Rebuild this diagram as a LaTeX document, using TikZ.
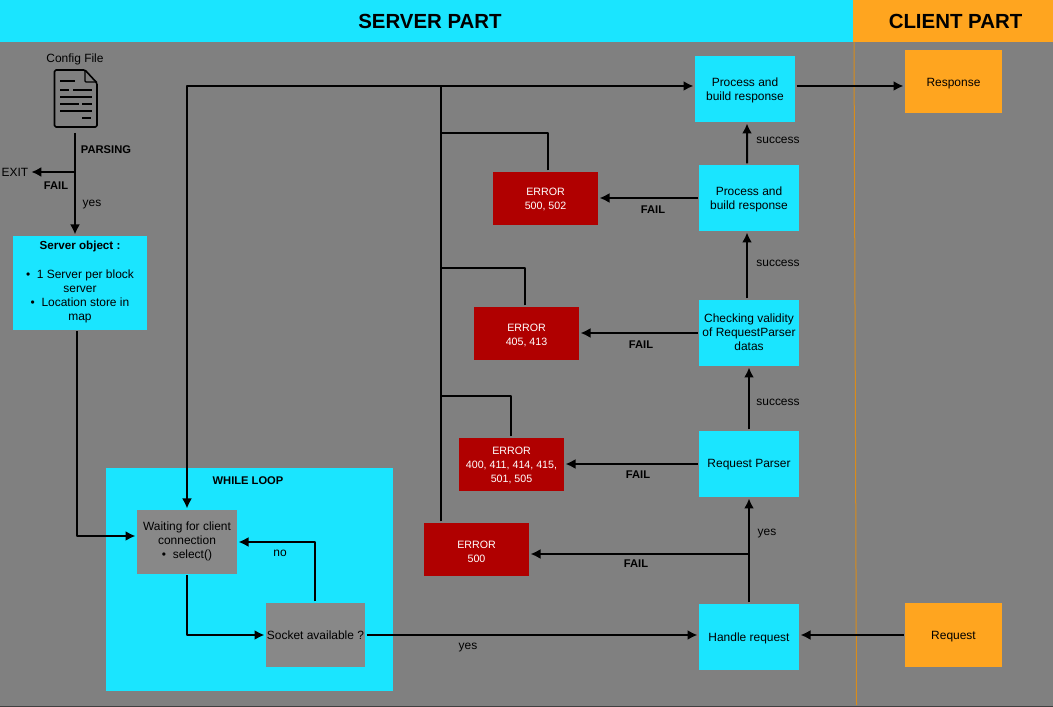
\documentclass[tikz,border=0pt]{standalone}
\usepackage{fontspec}
\setmainfont{Liberation Sans}
\usetikzlibrary{positioning,arrows.meta}
\definecolor{bandcyan}{HTML}{1AE5FF}
\definecolor{bandorange}{HTML}{FFA51F}
\definecolor{errred}{HTML}{B00000}
\definecolor{backgray}{HTML}{808080}
\definecolor{boxgray}{HTML}{888888}
\newcommand{\lowtext}[2][1.8bp]{\raisebox{-#1}[\height][\depth]{\begin{tabular}{@{}c@{}}#2\end{tabular}}}
\tikzset{
  basetxt/.style={font=\fontsize{12}{14}\selectfont,align=center,text=black,inner sep=0pt},
  txt/.style={basetxt,yshift=-1.5bp},
  boldtxt/.style={basetxt,font=\fontsize{11.2}{14}\selectfont\bfseries,yshift=-0.5bp},
  box/.style={basetxt,minimum width=100bp,minimum height=66bp,outer sep=1.5bp},
  cyanbox/.style={box,fill=bandcyan},
  graybox/.style={box,fill=boxgray,minimum height=64bp},
  clientbox/.style={box,fill=bandorange,minimum width=97bp,minimum height=64bp},
  errbox/.style={box,fill=errred,text=white,font=\fontsize{10.7}{14}\selectfont,minimum width=105bp,minimum height=53bp},
  conn/.style={black,line width=2bp},
  head/.style={font=\fontsize{20.5}{24}\selectfont\bfseries,text=black,inner sep=0pt},
}
\begin{document}
\begin{tikzpicture}[>={Latex[length=10bp,width=10bp]},line join=bevel,]
\useasboundingbox (0bp,0bp) rectangle (1053bp,707bp);
\fill [backgray] (0bp,0bp) rectangle (1053bp,707bp);
\fill [black!75] (0bp,0bp) rectangle (1053bp,1.5bp);
%% header bands
\node (serverband) at (426.5bp,686bp) [fill=bandcyan,minimum width=853bp,minimum height=42bp,inner sep=0pt] {};
\node (clientband) at (953bp,686bp) [fill=bandorange,minimum width=200bp,minimum height=42bp,inner sep=0pt] {};
\node (serverpart) at (430bp,686bp) [head] {SERVER PART};
\node (clientpart) at (955.5bp,686bp) [head] {CLIENT PART};
\draw [bandorange!85!black,line width=1bp] (854bp,665bp) -- (856.5bp,2bp);
%% while loop
\node (whileloop) at (249.5bp,127.5bp) [fill=bandcyan,minimum width=287bp,minimum height=223bp,inner sep=0pt] {};
\node (whilelabel) at (248bp,227bp) [boldtxt] {WHILE LOOP};
%% config file
\node (configlabel) at (75bp,649bp) [txt] {Config File};
\node (docicon) at (75.5bp,608bp) [minimum width=43bp,minimum height=58bp,inner sep=0pt,outer sep=5bp] {};
\draw [black,line width=1.6bp,rounded corners=1.5bp] (54.5bp,637bp) -- (85bp,637bp) -- (97bp,624bp) -- (97bp,580bp) -- (54.5bp,580bp) -- cycle;
\draw [black,line width=1.4bp,rounded corners=1bp] (85bp,637bp) -- (85bp,625bp) -- (97bp,625bp);
\foreach \xa/\xb/\ya in {60/75/626, 60/69/617, 73/92/617, 60/92/610, 60/79/603, 82/92/603, 60/92/596, 82/91/589}
  \draw [black,line width=1.4bp] (\xa bp,\ya bp) -- (\xb bp,\ya bp);
\node (parsing) at (106bp,558bp) [boldtxt] {PARSING};
\node (exit) at (15bp,535bp) [txt,yshift=1.5bp,outer sep=3bp] {EXIT};
\node (failexit) at (56bp,522bp) [boldtxt] {FAIL};
\node (yesconfig) at (92bp,504bp) [txt] {yes};
\node (serverobj) at (80bp,424bp) [cyanbox,minimum width=134bp,minimum height=94bp] {\lowtext[-1bp]{{\fontsize{11.7}{14}\selectfont\bfseries Server object :}\\[15bp]\textbullet\ \ 1 Server per block\\server\\\textbullet\ \ Location store in\\map}};
%% server side
\node (waiting) at (187bp,165bp) [graybox] {\lowtext[0bp]{Waiting for client\\connection\\\textbullet\ \ select()}};
\node (socket) at (315.5bp,72bp) [graybox,minimum width=99bp] {\lowtext{Socket available ?}};
\node (handle) at (749bp,70bp) [cyanbox] {\lowtext{Handle request}};
\node (parser) at (749bp,243bp) [cyanbox] {\lowtext[1bp]{Request Parser}};
\node (check) at (749bp,374bp) [cyanbox] {\lowtext[0.8bp]{Checking validity\\of RequestParser\\datas}};
\node (procb) at (749bp,509bp) [cyanbox] {\lowtext{Process and\\build response}};
\node (proca) at (745bp,618bp) [cyanbox] {\lowtext{Process and\\build response}};
%% errors
\node (errd) at (476.5bp,157.5bp) [errbox] {\lowtext[2.8bp]{ERROR\\500}};
\node (errc) at (511.5bp,242.5bp) [errbox] {\lowtext[0.8bp]{ERROR\\400, 411, 414, 415,\\501, 505}};
\node (errb) at (526.5bp,373.5bp) [errbox] {\lowtext{ERROR\\405, 413}};
\node (erra) at (545.5bp,508.5bp) [errbox] {\lowtext[0.8bp]{ERROR\\500, 502}};
%% client side
\node (request) at (953.5bp,72bp) [clientbox] {\lowtext{Request}};
\node (response) at (953.5bp,625.5bp) [clientbox,minimum height=63bp] {\lowtext{Response}};
%% labels
\node (succa) at (778bp,568bp) [txt] {success};
\node (succb) at (778bp,445bp) [txt] {success};
\node (succc) at (778bp,306bp) [txt] {success};
\node (faila) at (653bp,498bp) [boldtxt] {FAIL};
\node (failb) at (641bp,363bp) [boldtxt] {FAIL};
\node (failc) at (638bp,233bp) [boldtxt] {FAIL};
\node (faild) at (636bp,144bp) [boldtxt] {FAIL};
\node (yeshandle) at (767bp,175bp) [txt] {yes};
\node (yessocket) at (468bp,61bp) [txt] {yes};
\node (nosocket) at (280bp,155bp) [txt] {no};
%% joins
\coordinate (bustop) at (441bp,621bp);
\coordinate (busa) at (441bp,574bp);
\coordinate (busb) at (441bp,439bp);
\coordinate (busc) at (441bp,311bp);
\coordinate (exitjoin) at (75bp,535bp);
\coordinate (failjoin) at (749bp,153bp);
%% connectors
\draw [conn,->] ([xshift=-0.5bp]docicon.south) -- ([xshift=-0.5bp]docicon.south |- serverobj.north);
\draw [conn,->] (exitjoin) -- (exit.east);
\draw [conn,->] ([xshift=-3bp]serverobj.south) |- ([yshift=6bp]waiting.west);
\draw [conn,->] (waiting.south) |- (socket.west);
\draw [conn,->] ([xshift=-0.5bp]socket.north) |- (waiting.east);
\draw [conn,->] (socket.east) -- (socket.east -| handle.west);
\draw [conn,->] (request.west) -- (request.west -| handle.east);
\draw [conn,->] (handle.north) -- (parser.south);
\draw [conn,->] (failjoin) -- (failjoin -| errd.east);
\draw [conn,->] (parser.west) -- (parser.west -| errc.east);
\draw [conn,->] (parser.north) -- (check.south);
\draw [conn,->] (check.west) -- (check.west -| errb.east);
\draw [conn,->] ([xshift=-2bp]check.north) -- ([xshift=-2bp]procb.south);
\draw [conn,->] (procb.west) -- (procb.west -| erra.east);
\draw [conn,->] ([xshift=-2bp]procb.north) -- ([xshift=2bp]proca.south);
\draw [conn,->] (proca.east |- bustop) -- (response.west |- bustop);
\draw [conn] (errd.north -| bustop) -- (bustop);
\draw [conn,->] (bustop) -- (bustop -| proca.west);
\draw [conn,->] (bustop) -| (waiting.north);
\draw [conn] ([xshift=2.5bp]erra.north) |- (busa);
\draw [conn] ([xshift=-1.5bp]errb.north) |- (busb);
\draw [conn] ([xshift=-0.5bp]errc.north) |- (busc);
%
\end{tikzpicture}
\end{document}
